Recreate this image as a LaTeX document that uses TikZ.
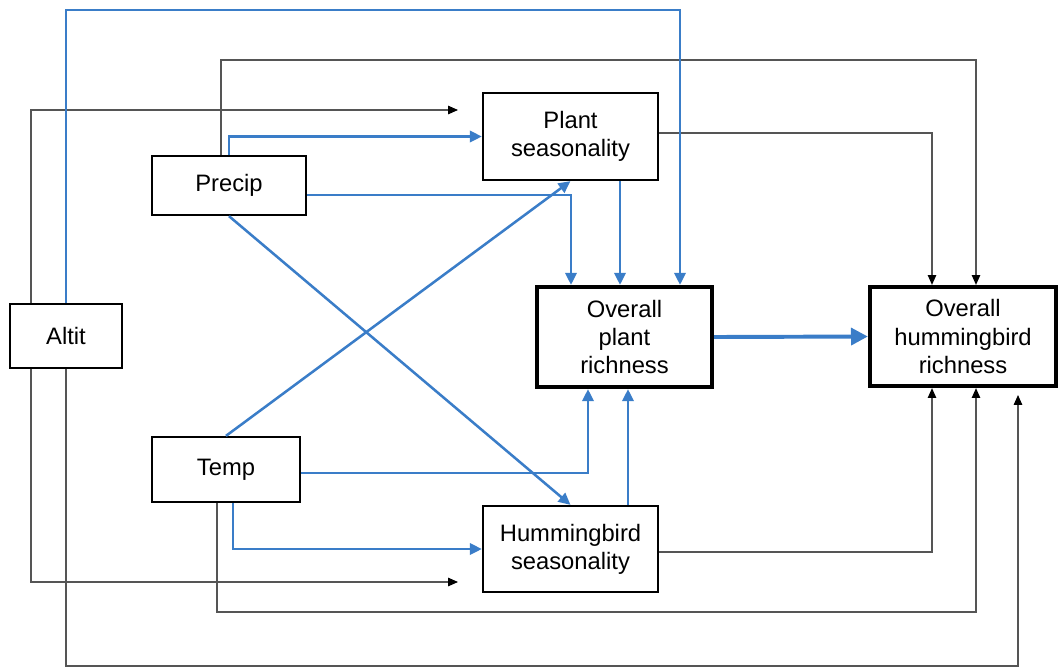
\documentclass[tikz,border=0pt]{standalone}
\usepackage{fontspec}
\setmainfont{Liberation Sans}
\usetikzlibrary{arrows.meta}
\definecolor{pathblue}{RGB}{58,125,200}
\definecolor{pathgray}{RGB}{85,85,85}

\begin{document}
\begin{tikzpicture}[x=0.025cm, y=-0.025cm,
  box/.style={shape=rectangle, draw=black, line width=1.6pt, fill=white, inner sep=0pt, align=center, font=\fontsize{16.9}{20}\selectfont},
  bigbox/.style={box, line width=3pt},
  eff/.style={draw=pathblue, line width=1.8pt, -{Triangle[length=8.5pt,width=8pt]}},
  maineff/.style={draw=pathblue, line width=2.8pt, -{Triangle[length=12pt,width=12pt]}},
  dir/.style={draw=pathgray, line width=0.8pt, -{Triangle[length=7pt,width=6pt,color=black]}}]
\useasboundingbox (0,0) rectangle (1060,667);

\node[box, minimum width=3.85cm, minimum height=1.475cm] (precip) at (229,185.5) {Precip};
\node[box, minimum width=2.8cm, minimum height=1.6cm] (altit) at (66,336) {Altit};
\node[box, minimum width=3.7cm, minimum height=1.625cm] (temp) at (226,469.5) {Temp};
\node[box, minimum width=4.375cm, minimum height=2.175cm] (plantseas) at (570.5,136.5) {Plant\\seasonality};
\node[bigbox, minimum width=4.375cm, minimum height=2.5cm] (plantrich) at (624.5,337) {Overall\\plant\\richness};
\node[box, minimum width=4.375cm, minimum height=2.15cm] (hbseas) at (570.5,549) {Hummingbird\\seasonality};
\node[bigbox, minimum width=4.65cm, minimum height=2.475cm] (hbrich) at (963,336.5) {Overall\\hummingbird\\richness};

\coordinate (altitup) at (458,110);
\coordinate (altitdown) at (458,582);
\coordinate (altitfar) at (1018,395);

\draw[dir] (altit.north -| 31,0) |- (altitup);
\draw[dir] (precip.north -| 221,0) |- (976,60) -- (hbrich.north -| 976,0);
\draw[dir] (plantseas.east |- 0,133) -| (hbrich.north -| 932,0);
\draw[dir] (altit.south -| 31,0) |- (altitdown);
\draw[dir] (altit.south) |- (1018,666) -- (altitfar);
\draw[dir] (temp.south -| 217,0) |- (976,612) -- (hbrich.south -| 976,0);
\draw[dir] (hbseas.east |- 0,552) -| (hbrich.south -| 932,0);

\draw[eff] (altit.north) |- (680,10) -- (plantrich.north -| 680,0);
\draw[eff] (precip.north) |- (plantseas.west);
\draw[eff] (precip.east |- 0,195) -| (plantrich.north -| 571,0);
\draw[eff] (temp.east |- 0,473) -| (plantrich.south -| 588,0);
\draw[eff] (temp.south -| 233,0) |- (hbseas.west);
\draw[eff] (plantseas.south -| 620,0) -- (plantrich.north -| 620,0);
\draw[eff] (hbseas.north -| 628,0) -- (plantrich.south -| 628,0);
\draw[eff] (precip.south) -- (hbseas.north);
\draw[eff] (temp.north) -- (plantseas.south);
\draw[maineff] (plantrich.east) -- (hbrich.west);
\end{tikzpicture}
\end{document}
